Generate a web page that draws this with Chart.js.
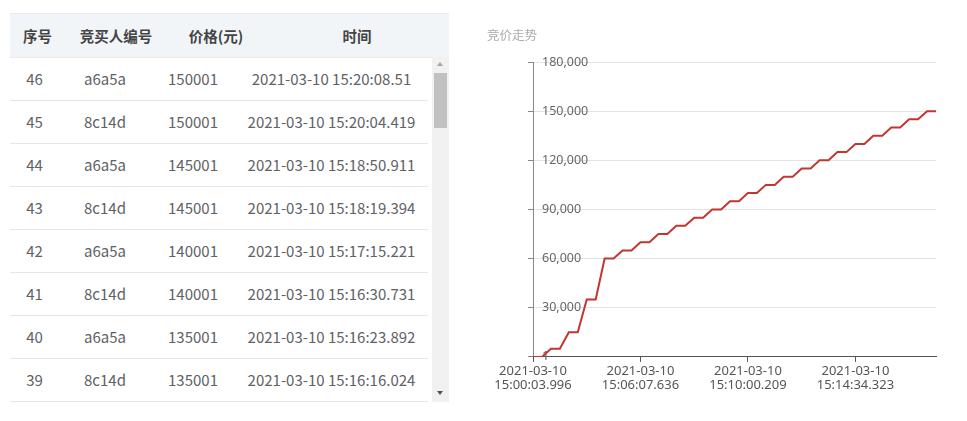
<!DOCTYPE html>
<html lang="zh">
<head>
  <meta charset="UTF-8">
  <title>竞价走势</title>
  <script src="https://cdn.jsdelivr.net/npm/chart.js"></script>
  <style>
    body { margin: 0; background: #fff; font-family: "Noto Sans CJK SC", "Noto Sans", sans-serif; }
    #table { position: absolute; left: 10px; top: 13px; width: 439px; }
    .head { display: grid; grid-template-columns: 55px 102px 98px 184px; height: 43px; line-height: 43px;
            background: #f2f5f8; border-top: 1px solid #e6e9ee; border-bottom: 1px solid #e6e9ee;
            font-size: 14.5px; font-weight: 600; color: #444; text-align: center; }
    .body { width: 418px; height: 345px; overflow: hidden; }
    .row { display: grid; grid-template-columns: 49px 92px 84px 193px; width: 418px; height: 42px; line-height: 42px;
           border-bottom: 1px solid #e6e6e6; font-size: 15px; color: #606266; text-align: center; }
    /* scrollbar look-alike */
    .track { position: absolute; left: 422px; top: 44px; width: 17px; height: 345px; background: #f1f1f1; }
    .thumb { position: absolute; left: 2px; top: 16px; width: 13px; height: 55px; background: #c1c1c1; }
    .up, .down { position: absolute; left: 5px; width: 0; height: 0; border-left: 3.5px solid transparent; border-right: 3.5px solid transparent; }
    .up { top: 5px; border-bottom: 4px solid #a3a3a3; }
    .down { top: 334px; border-top: 4px solid #505050; }
    #chartBox { position: absolute; left: 470px; top: 0; width: 497px; height: 421px; }
  </style>
</head>
<body>
  <div id="table">
    <div class="head"><div>序号</div><div>竞买人编号</div><div>价格(元)</div><div>时间</div></div>
    <div class="body" id="rows"></div>
    <div class="track"><div class="up"></div><div class="thumb"></div><div class="down"></div></div>
  </div>
  <div id="chartBox"><canvas id="myChart"></canvas></div>

  <script>
    // bid history, oldest first
    const bidDate = '2021-03-10';
    const bidders = ['8c14d','a6a5a','8c14d','a6a5a','8c14d','a6a5a','8c14d','a6a5a','8c14d','a6a5a',
                     '8c14d','a6a5a','8c14d','a6a5a','8c14d','a6a5a','8c14d','a6a5a','8c14d','a6a5a',
                     '8c14d','a6a5a','8c14d','a6a5a','8c14d','a6a5a','8c14d','a6a5a','8c14d','a6a5a',
                     '8c14d','a6a5a','8c14d','a6a5a','8c14d','a6a5a','8c14d','a6a5a','8c14d','a6a5a',
                     '8c14d','a6a5a','8c14d','a6a5a','8c14d','a6a5a'];
    const prices = [1, 1, 5001, 5001, 15001, 15001, 35001, 35001, 60001, 60001,
                    65001, 65001, 70001, 70001, 75001, 75001, 80001, 80001, 85001, 85001,
                    90001, 90001, 95001, 95001, 100001, 100001, 105001, 105001, 110001, 110001,
                    115001, 115001, 120001, 120001, 125001, 125001, 130001, 130001, 135001, 135001,
                    140001, 140001, 145001, 145001, 150001, 150001];
    const times = ['15:00:03.996','15:00:21.532','15:00:48.105','15:01:10.674','15:01:39.218',
                   '15:02:05.337','15:02:40.829','15:03:12.460','15:03:51.713','15:04:20.095',
                   '15:04:58.382','15:05:31.947','15:06:07.636','15:06:25.118','15:06:44.570',
                   '15:07:02.293','15:07:23.841','15:07:40.506','15:08:01.977','15:08:20.364',
                   '15:08:42.719','15:09:03.152','15:09:24.688','15:09:41.430','15:10:00.209',
                   '15:10:27.563','15:10:50.914','15:11:18.302','15:11:41.776','15:12:09.045',
                   '15:12:33.618','15:12:58.287','15:13:21.940','15:13:44.571','15:14:05.126',
                   '15:14:19.803','15:14:34.323','15:15:27.658','15:16:16.024','15:16:23.892',
                   '15:16:30.731','15:17:15.221','15:18:19.394','15:18:50.911','15:20:04.419',
                   '15:20:08.51'];
    const yTicks = [1, 30000, 60000, 90000, 120000, 150000, 180000];
    const labelEvery = 12;

    // table, newest first
    const rowsEl = document.getElementById('rows');
    for (let i = prices.length - 1; i >= 0; i--) {
      const r = document.createElement('div');
      r.className = 'row';
      r.innerHTML = '<div>' + (i + 1) + '</div><div>' + bidders[i] + '</div><div>' + prices[i] +
                    '</div><div>' + bidDate + ' ' + times[i] + '</div>';
      rowsEl.appendChild(r);
    }

    const ctx = document.getElementById('myChart').getContext('2d');
    new Chart(ctx, {
      type: 'line',
      data: {
        labels: times.map(t => [bidDate, t]),
        datasets: [{
          data: prices,
          borderColor: '#c23531',
          borderWidth: 2,
          pointRadius: 0,
          tension: 0
        }]
      },
      options: {
        responsive: true,
        maintainAspectRatio: false,
        animation: false,
        layout: { padding: { left: 17, right: 31, top: 0, bottom: 27 } },
        plugins: {
          legend: { display: false },
          tooltip: { enabled: false },
          title: {
            display: true,
            text: '竞价走势',
            align: 'start',
            color: '#aaa',
            font: { size: 12.5, weight: 'normal', family: '"Noto Sans CJK SC", sans-serif' },
            padding: { top: 28, bottom: 19 }
          }
        },
        scales: {
          x: {
            grid: {
              drawOnChartArea: false,
              tickLength: 5,
              tickColor: c => (c.index % labelEvery === 0 ? '#555' : 'transparent')
            },
            border: { color: '#555' },
            ticks: {
              autoSkip: false,
              maxRotation: 0,
              padding: 2,
              color: '#555',
              font: { size: 13, family: '"Noto Sans", sans-serif', lineHeight: 1.08 },
              callback: function (v, i) { return i % labelEvery === 0 ? this.getLabelForValue(v) : ''; }
            }
          },
          y: {
            min: 1,
            max: 180000,
            afterBuildTicks: s => { s.ticks = yTicks.map(v => ({ value: v })); },
            afterFit: s => { s.width = 46; },
            grid: { color: '#e3e3e3', tickLength: 5, tickColor: '#888' },
            border: { color: '#888' },
            ticks: {
              mirror: true,
              padding: 9,
              color: '#666',
              font: { size: 12.5, family: '"Noto Sans", sans-serif' },
              callback: v => v.toLocaleString('en-US')
            }
          }
        }
      }
    });
  </script>
</body>
</html>
